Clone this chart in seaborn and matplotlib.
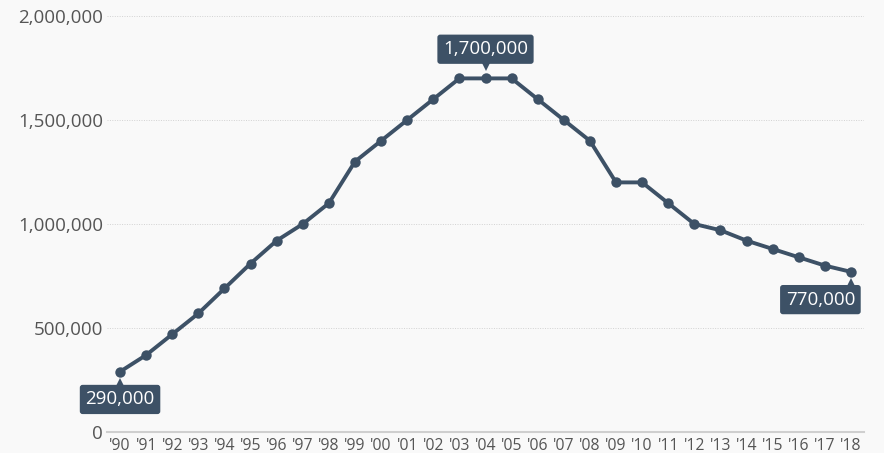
import matplotlib
matplotlib.use("Agg")
import matplotlib.pyplot as plt
import matplotlib.transforms as mtransforms
import seaborn as sns
import pandas as pd

years = list(range(1990, 2019))
tick_labels = ["'" + str(y)[2:] for y in years]
values = [290000, 370000, 470000, 570000, 690000, 810000, 920000, 1000000,
          1100000, 1300000, 1400000, 1500000, 1600000, 1700000, 1700000,
          1700000, 1600000, 1500000, 1400000, 1200000, 1200000, 1100000,
          1000000, 970000, 920000, 880000, 840000, 800000, 770000]

# labelled points: (year, value, side, horizontal offset of box in pt)
callouts = [(1990, 290000, "below", 0), (2004, 1700000, "above", 0),
            (2018, 770000, "below", -22)]

LINE = "#3d5166"
BG = "#f9f9f9"

sns.set_theme(style="white")
plt.rcParams["font.family"] = ["Open Sans", "DejaVu Sans"]

df = pd.DataFrame({"year": years, "value": values})

fig = plt.figure(figsize=(8.84, 4.53), dpi=100, facecolor=BG)
ax = fig.add_axes([107 / 884, 1 - 432 / 453, (864 - 107) / 884, (432 - 16) / 453])
ax.set_facecolor(BG)

sns.lineplot(data=df, x="year", y="value", ax=ax, color=LINE, linewidth=2.8,
             marker="o", markersize=7.5, markeredgewidth=0, clip_on=False, zorder=5)

ax.set_xlim(1989.5, 2018.5)
ax.set_ylim(0, 2000000)
ax.set_yticks([0, 500000, 1000000, 1500000, 2000000])
ax.set_yticklabels(["0", "500,000", "1,000,000", "1,500,000", "2,000,000"])
ax.set_xticks(years)
ax.set_xticklabels(tick_labels)
ax.set_xlabel("")
ax.set_ylabel("")

for s in ["top", "right", "left"]:
    ax.spines[s].set_visible(False)
ax.spines["bottom"].set_color("#cfcfcf")
ax.spines["bottom"].set_linewidth(1.5)

for yv in [500000, 1000000, 1500000, 2000000]:
    ax.axhline(yv, color="#d2d2d2", linestyle=(0, (1, 1.5)), linewidth=0.7, zorder=0)

ax.tick_params(axis="y", length=0, pad=3, labelsize=13.5, labelcolor="#555555")
ax.tick_params(axis="x", length=0, pad=4, labelsize=11.3, labelcolor="#555555")

for yr, val, side, dx in callouts:
    dy = 21 if side == "above" else -20
    ax.annotate(f"{val:,}", xy=(yr, val), xytext=(dx, dy), textcoords="offset points",
                ha="center", va="center", color="white", fontsize=13.5, zorder=7,
                bbox=dict(boxstyle="round,pad=0.3,rounding_size=0.15", fc=LINE, ec="none"))
    tri_off = 10 if side == "above" else -9
    marker = "v" if side == "above" else "^"
    tr = ax.transData + mtransforms.ScaledTranslation(0, tri_off / 72, fig.dpi_scale_trans)
    ax.plot([yr], [val], marker=marker, color=LINE, markersize=8, transform=tr,
            clip_on=False, zorder=6, markeredgewidth=0)

fig.savefig("out.png", dpi=100, facecolor=BG)
